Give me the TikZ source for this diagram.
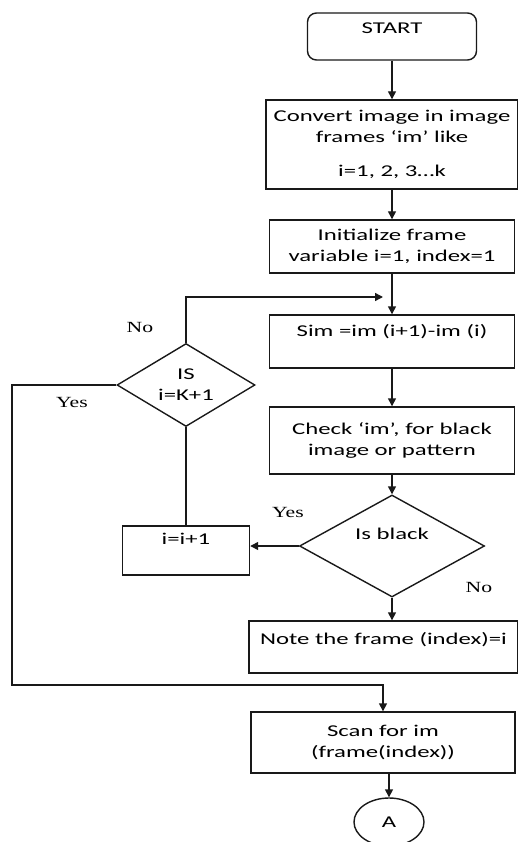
\documentclass[tikz,border=0pt]{standalone}
\usepackage{fontspec}
\setmainfont{Carlito}[FakeStretch=1.5]
\newfontfamily\lblfont{Liberation Serif}[FakeStretch=1.4]
\usetikzlibrary{arrows.meta,positioning,shapes.geometric}

\begin{document}
\begin{tikzpicture}[x=1pt,y=-1pt,box/.style={draw=black!90,line width=1.4pt,align=center,inner sep=2pt,font=\fontsize{16.5}{21}\selectfont},dec/.style={box,diamond,inner sep=0pt},lbl/.style={font=\lblfont\fontsize{15.5}{18}\selectfont},arr/.style={-{Triangle[length=8pt,width=8pt]},line width=1.4pt,draw=black!90}]
\useasboundingbox (0,0) rectangle (518,842);
\node[box,rounded corners=9pt,minimum width=169pt,minimum height=47pt] (start) at (392,36.5) {START\\[-4pt]\mbox{}};
\node[box,minimum width=252pt,minimum height=89pt] (conv) at (392,144.5) {Convert image in image\\frames ‘im’ like\\[13pt]i=1, 2, 3…k};
\node[box,minimum width=245pt,minimum height=53pt] (init) at (392,246.5) {Initialize frame\\variable i=1, index=1};
\node[box,minimum width=245pt,minimum height=53pt] (sim) at (392,341.5) {Sim =im (i+1)-im (i)\\[1pt]\mbox{}};
\node[box,minimum width=245pt,minimum height=67pt] (check) at (392,440.5) {Check ‘im’, for black\\image or pattern};
\node[dec,aspect=1.81,minimum width=185pt,minimum height=102pt] (black) at (392,546) {Is black\\[4pt]\mbox{}};
\node[box,minimum width=127pt,minimum height=49pt] (inc) at (186,550.5) {i=i+1\\[3pt]\mbox{}};
\node[dec,aspect=1.66,minimum width=138pt,minimum height=83pt] (last) at (186,385) {IS\\i=K+1};
\node[box,minimum width=269pt,minimum height=52pt] (note) at (383.5,647) {Note the frame (index)=i\\[-4pt]\mbox{}};
\node[box,minimum width=264pt,minimum height=61pt] (scan) at (383,742.5) {Scan for im\\(frame(index))};
\node[box,ellipse,minimum width=70pt,minimum height=48pt] (conA) at (389,822) {A};
\coordinate (loopin) at (383,297);
\coordinate (yesx) at (12,685);
% labels
\node[lbl] (no1) at (140,327) {No};
\node[lbl] (yes1) at (72,402) {Yes};
\node[lbl] (yes2) at (288,512) {Yes};
\node[lbl] (no2) at (479,587) {No};
% connectors
\draw[arr] (start)--(conv);
\draw[arr] (conv)--(init);
\draw[arr] (init)--(sim);
\draw[arr] (sim)--(check);
\draw[arr] (check)--(black);
\draw[arr] (last.north) |- (loopin);
\draw[arr] (black.west)--(black.west -| inc.east);
\draw[line width=1.4pt,draw=black!90] (inc)--(last);
\draw[arr] (black.south)--(black.south |- note.north);
\draw[arr] (last.west) -| (yesx) -| (scan.north);
\draw[arr] (conA.north |- scan.south)--(conA.north);
\end{tikzpicture}
\end{document}
